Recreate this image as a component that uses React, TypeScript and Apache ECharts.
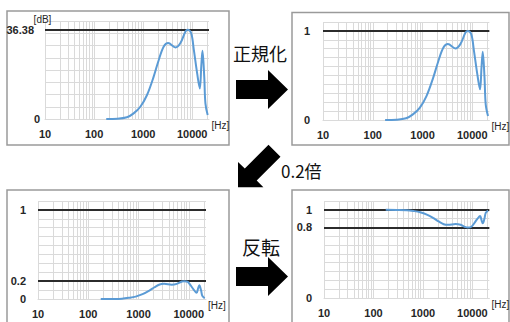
import React, { useEffect, useRef } from "react";
import * as echarts from "echarts";

// Frequencies (Hz) of the curve points
const freqHz = [177, 300, 468, 640, 877, 1200, 1640, 2075, 2630, 3230, 4570, 5760, 7300, 8130, 9550, 10800, 12600, 14300, 15300, 16200, 17600, 18600, 20700];
// Panel 1: level in dB
const levelDb = [0, 0.1, 0.7, 2.3, 5, 9.8, 17.3, 24, 29.6, 31, 29.2, 31, 35.7, 36.38, 35, 28.2, 18.7, 12.5, 21.4, 27.9, 17.3, 6.4, 1.6];
// Panel 2: normalized
const normalized = [0, 0.003, 0.019, 0.063, 0.137, 0.269, 0.476, 0.66, 0.814, 0.852, 0.803, 0.852, 0.981, 1, 0.962, 0.775, 0.514, 0.344, 0.588, 0.767, 0.476, 0.176, 0.044];
// Panel 3: x0.2
const scaled = [0, 0.001, 0.004, 0.013, 0.027, 0.054, 0.095, 0.132, 0.163, 0.17, 0.161, 0.17, 0.196, 0.2, 0.192, 0.155, 0.103, 0.069, 0.118, 0.153, 0.095, 0.035, 0.009];
// Panel 4: inverted
const inverted = [1, 0.999, 0.996, 0.987, 0.973, 0.946, 0.905, 0.868, 0.837, 0.83, 0.839, 0.83, 0.804, 0.8, 0.808, 0.845, 0.897, 0.931, 0.882, 0.847, 0.905, 0.965, 0.991];

// Axis structure
const xLabelValues = [10, 100, 1000, 10000];
const xGridValues = [
  10, 20, 30, 40, 50, 60, 70, 80, 90,
  100, 200, 300, 400, 500, 600, 700, 800, 900,
  1000, 2000, 3000, 4000, 5000, 6000, 7000, 8000, 9000,
  10000, 20000,
];
const yLabels1 = [0, 36.38];
const yLabels2 = [0, 1];
const yLabels3 = [0, 0.2, 1];
const yLabels4 = [0, 0.8, 1];
const refLines1 = [36.38];
const refLines2 = [1];
const refLines3 = [1, 0.2];
const refLines4 = [1, 0.8];

const FONT = "'Liberation Sans', Arial, sans-serif";
const JP = "'Noto Sans CJK JP', sans-serif";
const GRID_COLOR = "#dadada";
const TEXT_COLOR = "#262626";
const CURVE = "#5b9bd5";

export default function App() {
  const ref = useRef<HTMLDivElement>(null);

  useEffect(() => {
    if (!ref.current) return;
    const chart = echarts.init(ref.current, null, { renderer: "svg" });

    const grids = [
      { left: 45, top: 21, width: 164, height: 98 },
      { left: 323, top: 22, width: 169, height: 98 },
      { left: 38, top: 201, width: 168, height: 98 },
      { left: 324, top: 201, width: 169, height: 97 },
    ];
    const yConf = [
      { max: 40, interval: 5, labels: yLabels1, margin: 5, name: "[dB]" },
      { max: 1.1, interval: 0.1, labels: yLabels2, margin: 13, name: "" },
      { max: 1.1, interval: 0.1, labels: yLabels3, margin: 12, name: "" },
      { max: 1.1, interval: 0.1, labels: yLabels4, margin: 12, name: "" },
    ];
    const curves = [levelDb, normalized, scaled, inverted];
    const refs = [refLines1, refLines2, refLines3, refLines4];

    const xAxis = grids.map((_, i) => ({
      type: "log",
      logBase: 10,
      gridIndex: i,
      min: 10,
      max: 22000,
      name: "[Hz]",
      nameLocation: "end",
      nameGap: 0,
      nameTextStyle: { fontFamily: FONT, fontSize: 10, color: TEXT_COLOR, verticalAlign: "top", align: "left", padding: [1, 0, 0, 0] },
      axisLine: { show: true, lineStyle: { color: GRID_COLOR, width: 1 } },
      axisTick: { show: false, customValues: xGridValues },
      splitLine: { show: true, lineStyle: { color: GRID_COLOR, width: 1 } },
      minorSplitLine: { show: false },
      axisLabel: {
        customValues: xLabelValues,
        margin: 9,
        fontFamily: FONT,
        fontSize: 11,
        fontWeight: "bold",
        color: TEXT_COLOR,
        formatter: (v: number) => String(Math.round(v)),
      },
    }));

    const yAxis = yConf.map((c, i) => ({
      type: "value",
      gridIndex: i,
      min: 0,
      max: c.max,
      interval: c.interval,
      name: c.name,
      nameLocation: "end",
      nameGap: 0,
      nameTextStyle: { fontFamily: FONT, fontSize: 10, color: TEXT_COLOR, verticalAlign: "middle", align: "center", padding: [0, 5, 0, 0] },
      axisLine: { show: false },
      axisTick: { show: false },
      splitLine: { show: true, lineStyle: { color: GRID_COLOR, width: 1 } },
      axisLabel: {
        customValues: c.labels,
        margin: c.margin,
        fontFamily: FONT,
        fontSize: 11,
        fontWeight: "bold",
        color: TEXT_COLOR,
        formatter: (v: number) => (i === 0 && v > 0 ? "{t|" + v + "}" : "{n|" + v + "}"),
        rich: {
          t: { fontFamily: FONT, fontSize: 11, fontWeight: "bold", color: TEXT_COLOR, padding: [0, 6, 0, 0] },
          n: { fontFamily: FONT, fontSize: 11, fontWeight: "bold", color: TEXT_COLOR },
        },
      },
    }));

    const series: any[] = [];
    grids.forEach((_, i) => {
      series.push({
        type: "line",
        xAxisIndex: i,
        yAxisIndex: i,
        data: [],
        z: 1,
        silent: true,
        markLine: {
          silent: true,
          symbol: "none",
          label: { show: false },
          lineStyle: { color: "#2b2b2b", width: 2, type: "solid" },
          data: refs[i].map((v) => ({ yAxis: v })),
        },
      });
      series.push({
        type: "line",
        xAxisIndex: i,
        yAxisIndex: i,
        data: freqHz.map((f, k) => [f, curves[i][k]]),
        showSymbol: false,
        symbol: "none",
        smooth: 0.35,
        z: 5,
        lineStyle: { color: CURVE, width: 2 },
      });
    });

    const arrowRight = (dy: number) => ({
      type: "polygon",
      shape: {
        points: [
          [236, 80 + dy], [268, 80 + dy], [268, 70 + dy], [288, 89.5 + dy],
          [268, 109 + dy], [268, 99 + dy], [236, 99 + dy],
        ],
      },
      style: { fill: "#000" },
    });

    const border = (x: number, y: number, w: number, h: number) => ({
      type: "rect",
      shape: { x, y, width: w, height: h },
      style: { fill: "none", stroke: "#9a9a9a", lineWidth: 1.5 },
      z: -1,
    });

    chart.setOption({
      animation: false,
      backgroundColor: "#fff",
      grid: grids.map((g) => ({ ...g, containLabel: false })),
      xAxis,
      yAxis,
      series,
      graphic: [
        border(7, 11, 222, 134),
        border(292, 12.5, 217, 132.5),
        border(7, 190, 222, 140),
        border(292, 190, 217, 140),
        arrowRight(0),
        arrowRight(187),
        {
          type: "polygon",
          shape: {
            points: [
              [238, 187.3], [238, 161.9], [244.8, 168.6], [268.5, 144.8],
              [280.5, 156.8], [256.7, 180.6], [263.4, 187.3],
            ],
          },
          style: { fill: "#000" },
        },
        {
          type: "text",
          x: 260,
          y: 52.5,
          style: { text: "正規化", font: `18px ${JP}`, fill: "#111", align: "center", verticalAlign: "middle" },
        },
        {
          type: "text",
          x: 261,
          y: 246,
          style: { text: "反転", font: `19px ${JP}`, fill: "#111", align: "center", verticalAlign: "middle" },
        },
        {
          type: "text",
          x: 281,
          y: 170,
          style: { text: "0.2倍", font: `17px ${JP}`, fill: "#111", align: "left", verticalAlign: "middle" },
        },
      ],
    });

    return () => chart.dispose();
  }, []);

  return (
    <div
      ref={ref}
      style={{ position: "fixed", left: 0, top: 0, width: 510, height: 322, background: "#fff" }}
    />
  );
}
